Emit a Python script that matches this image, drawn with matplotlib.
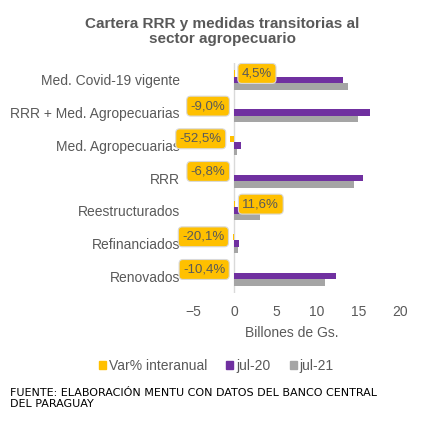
import numpy as np
from matplotlib import pyplot as plt
from matplotlib.patches import Patch

plt.rcParams['font.family'] = ['Liberation Sans', 'DejaVu Sans']

# datos (billones de Gs.)
categorias = ['Med. Covid-19 vigente', 'RRR + Med. Agropecuarias', 'Med. Agropecuarias',
              'RRR', 'Reestructurados', 'Refinanciados', 'Renovados']
jul20 = [13.1, 16.4, 0.75, 15.5, 2.76, 0.54, 12.3]
jul21 = [13.7, 14.9, 0.36, 14.5, 3.08, 0.43, 11.0]
var_pct = [4.5, -9.0, -52.5, -6.8, 11.6, -20.1, -10.4]
etiquetas = ['4,5%', '-9,0%', '-52,5%', '-6,8%', '11,6%', '-20,1%', '-10,4%']

amarillo = '#FFC000'
morado = '#7030A0'
gris = '#A5A5A5'
texto = '#595959'

fig = plt.figure(figsize=(4.24, 4.24), dpi=100)
ax = fig.add_axes([180 / 424, 1 - 293 / 424, 224 / 424, 230 / 424])

n = len(categorias)
pos = np.arange(n)[::-1]
h = 0.2
var_frac = np.array(var_pct) / 100.0

ax.barh(pos + h, var_frac, height=h, color=amarillo)
ax.barh(pos, jul20, height=h, color=morado)
ax.barh(pos - h, jul21, height=h, color=gris)

for y, v, lab in zip(pos, var_frac, etiquetas):
    if v >= 0:
        off, ha = 5, 'left'
    else:
        off, ha = -6, 'right'
    ax.annotate(lab, xy=(v, y + h), xytext=(off, 0), textcoords='offset points',
                ha=ha, va='center', fontsize=9.5, color=texto,
                bbox=dict(boxstyle='round,pad=0.3', fc=amarillo, ec='#D9D9D9', lw=0.8))

ax.set_xlim(-6.59, 20.5)
ax.set_ylim(-0.52, n - 0.48)
ax.axvline(0, color='#D9D9D9', lw=1, zorder=0)
ax.set_yticks(pos)
ax.set_yticklabels(categorias, fontsize=10, color=texto)
ax.set_xticks([-5, 0, 5, 10, 15, 20])
ax.tick_params(axis='both', length=0, labelsize=10, labelcolor=texto)
ax.tick_params(axis='x', pad=9)
ax.tick_params(axis='y', pad=0)
ax.set_xlabel('Billones de Gs.', fontsize=10, color=texto, labelpad=5)
for s in ax.spines.values():
    s.set_visible(False)

fig.text(0.525, 0.96, 'Cartera RRR y medidas transitorias al\nsector agropecuario',
         ha='center', va='top', fontsize=11, fontweight='bold', color=texto,
         linespacing=1.1)

handles = [Patch(color=amarillo, label='Var% interanual'),
           Patch(color=morado, label='jul-20'),
           Patch(color=gris, label='jul-21')]
fig.legend(handles=handles, loc='center', bbox_to_anchor=(0.51, 1 - 366 / 424), ncol=3,
           frameon=False, fontsize=10, labelcolor=texto, handlelength=0.5,
           handleheight=0.5, handletextpad=0.2, columnspacing=1.4)

fig.text(10 / 424, 1 - 388 / 424, 'FUENTE: ELABORACIÓN MENTU CON DATOS DEL BANCO CENTRAL\nDEL PARAGUAY',
         family='DejaVu Sans', ha='left', va='top', fontsize=8, color='black', linespacing=1.1)

fig.savefig('out.png', dpi=100)
